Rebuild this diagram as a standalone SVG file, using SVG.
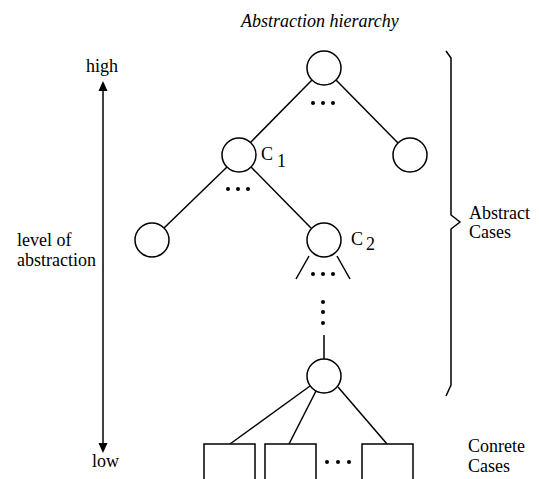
<svg xmlns="http://www.w3.org/2000/svg" width="539" height="479" viewBox="0 0 539 479">
<defs>
<style>
.n{fill:#fff;stroke:#000;stroke-width:1.5}
.e{stroke:#000;stroke-width:1.5;fill:none}
text{font-family:'Times New Roman','Liberation Serif',Tinos,'Nimbus Roman','DejaVu Serif',Times,serif;font-size:18px;fill:#000}
.d{fill:#000}
</style>
</defs>
<rect width="539" height="479" fill="#fff"/>
<text x="241" y="27" font-style="italic">Abstraction hierarchy</text>

<g id="connectors">
<line class="e" x1="312" y1="80" x2="250" y2="143"/>
<line class="e" x1="336" y1="80" x2="398" y2="143"/>
<line class="e" x1="227" y1="167" x2="164" y2="228"/>
<line class="e" x1="251" y1="167" x2="311" y2="228"/>
<line class="e" x1="309" y1="256" x2="296" y2="279"/>
<line class="e" x1="337" y1="256" x2="350" y2="279"/>
<line class="e" x1="324" y1="335" x2="324" y2="359"/>
<line class="e" x1="310" y1="386" x2="230" y2="444"/>
<line class="e" x1="316" y1="391" x2="289" y2="444"/>
<line class="e" x1="338" y1="387" x2="387" y2="444"/>
</g>

<g id="axis">
<line class="e" x1="103" y1="90" x2="103" y2="444"/>
<path d="M103,81 L98.5,91 L107.5,91 z" fill="#000"/>
<path d="M103,453 L98.5,443 L107.5,443 z" fill="#000"/>
<text x="86" y="72">high</text>
<text x="92" y="467">low</text>
<text x="17" y="246">level of</text>
<text x="17" y="266">abstraction</text>
</g>

<g id="brace">
<path class="e" d="M446,51 L451,58 L451,215 L460,222 L451,229 L451,385 L446,396"/>
<text x="469" y="219">Abstract</text>
<text x="469" y="238">Cases</text>
</g>

<g id="root"><circle class="n" cx="324" cy="68" r="17"/></g>
<g id="dots1"><circle class="d" cx="313" cy="103" r="2"/><circle class="d" cx="323" cy="103" r="2"/><circle class="d" cx="333" cy="103" r="2"/></g>
<g id="c1"><circle class="n" cx="239" cy="155" r="17"/><text x="261" y="160">C</text><text x="277" y="167">1</text></g>
<g id="right"><circle class="n" cx="410" cy="155" r="17"/></g>
<g id="dots2"><circle class="d" cx="228" cy="189" r="2"/><circle class="d" cx="238" cy="189" r="2"/><circle class="d" cx="248" cy="189" r="2"/></g>
<g id="left"><circle class="n" cx="152" cy="240" r="17"/></g>
<g id="c2"><circle class="n" cx="324" cy="240" r="17"/><text x="351" y="245">C</text><text x="366" y="250">2</text></g>
<g id="dots3"><circle class="d" cx="313" cy="274" r="2"/><circle class="d" cx="323" cy="274" r="2"/><circle class="d" cx="333" cy="274" r="2"/></g>
<g id="dots4"><circle class="d" cx="323" cy="302" r="2"/><circle class="d" cx="323" cy="312" r="2"/><circle class="d" cx="323" cy="323" r="2"/></g>
<g id="bottom"><circle class="n" cx="324" cy="376" r="17"/></g>
<g id="box1"><rect class="n" x="204" y="444" width="51" height="36"/></g>
<g id="box2"><rect class="n" x="265" y="444" width="51" height="36"/></g>
<g id="dots5"><circle class="d" cx="327" cy="462" r="2"/><circle class="d" cx="338" cy="462" r="2"/><circle class="d" cx="349" cy="462" r="2"/></g>
<g id="box3"><rect class="n" x="362" y="444" width="51" height="36"/></g>
<g id="concrete"><text x="468" y="452">Conrete</text><text x="468" y="472">Cases</text></g>
</svg>
